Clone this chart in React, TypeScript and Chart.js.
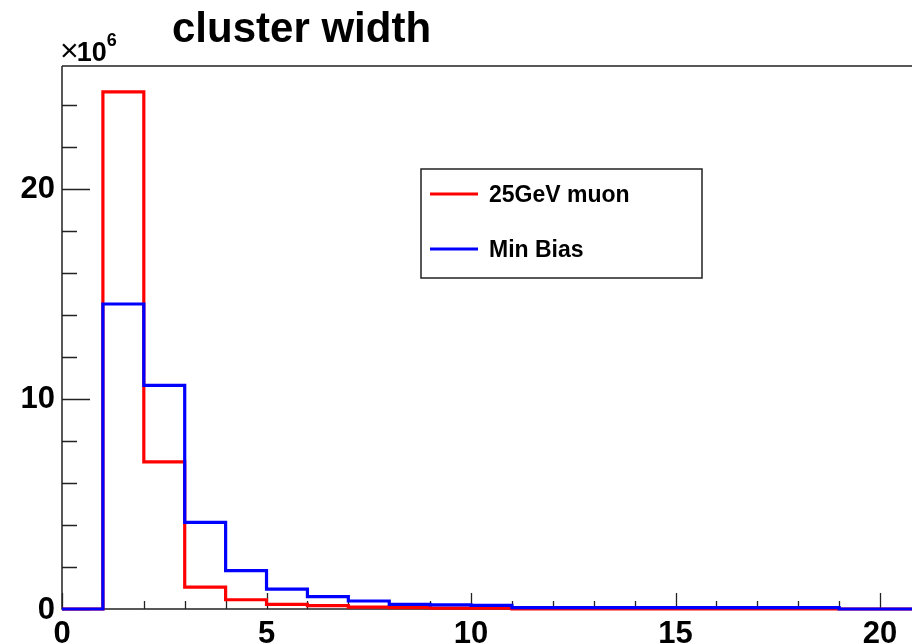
import React, { useEffect, useRef } from "react";
import { Chart, registerables } from "chart.js";

Chart.register(...registerables);

// ---- data (values in units of 10^6) ----
const binEdges = [0, 1, 2, 3, 4, 5, 6, 7, 8, 9, 10, 11, 12, 13, 14, 15, 16, 17, 18, 19, 20, 21];
const muonValues = [0, 24.62, 7.0, 1.04, 0.44, 0.22, 0.16, 0.09, 0.07, 0.04, 0.04, 0, 0, 0, 0, 0, 0, 0, 0, 0, 0];
const minBiasValues = [0, 14.52, 10.65, 4.12, 1.83, 0.95, 0.59, 0.38, 0.22, 0.2, 0.17, 0.07, 0.07, 0.07, 0.07, 0.07, 0.07, 0.07, 0.07, 0, 0];
const seriesLabels = ["25GeV muon", "Min Bias"];
const seriesColors = ["#ff0000", "#0000ff"];
const xMajorTicks = [0, 5, 10, 15, 20];
const yMajorTicks = [0, 10, 20];
const xMinorStep = 1;
const yMinorStep = 2;
const xRange = [0, 20.78];
const yRange = [0, 25.85];
const titleText = "cluster width";
const multiplierSign = "\u00d7";
const multiplierBase = "10";
const multiplierExp = "6";

const FONT = '"Liberation Sans", Arial, Helvetica, sans-serif';

function toSteps(values: number[]) {
  const pts = values.map((v, i) => ({ x: binEdges[i], y: v }));
  pts.push({ x: binEdges[values.length], y: values[values.length - 1] });
  return pts;
}

const rootStylePlugin = {
  id: "rootStyle",
  beforeDatasetsDraw(chart: any) {
    const { ctx, chartArea: a, scales } = chart;
    const x = scales.x;
    const y = scales.y;
    ctx.save();
    ctx.strokeStyle = "#222";
    ctx.lineWidth = 1.5;
    ctx.beginPath();
    ctx.moveTo(a.left, a.top);
    ctx.lineTo(a.right, a.top);
    ctx.moveTo(a.left, a.top);
    ctx.lineTo(a.left, a.bottom);
    ctx.lineTo(a.right, a.bottom);
    ctx.stroke();

    // y ticks (inside)
    ctx.lineWidth = 1.3;
    ctx.beginPath();
    for (let v = y.min; v <= y.max + 1e-9; v += yMinorStep) {
      const py = Math.round(y.getPixelForValue(v)) + 0.5;
      const len = yMajorTicks.includes(v) ? 28 : 15;
      ctx.moveTo(a.left, py);
      ctx.lineTo(a.left + len, py);
    }
    // x ticks (inside)
    for (let v = x.min; v <= x.max + 1e-9; v += xMinorStep) {
      const px = Math.round(x.getPixelForValue(v)) + 0.5;
      const len = xMajorTicks.includes(v) ? 16 : 8;
      ctx.moveTo(px, a.bottom);
      ctx.lineTo(px, a.bottom - len);
    }
    ctx.stroke();
    ctx.restore();
  },
  afterDraw(chart: any) {
    const { ctx, chartArea: a, scales } = chart;
    const x = scales.x;
    const y = scales.y;
    ctx.save();
    ctx.fillStyle = "#000";
    // tick labels
    ctx.font = `bold 31px ${FONT}`;
    ctx.textAlign = "right";
    ctx.textBaseline = "middle";
    yMajorTicks.forEach((v) => {
      ctx.fillText(String(v), a.left - 7, y.getPixelForValue(v) + 1);
    });
    ctx.textAlign = "center";
    ctx.textBaseline = "top";
    xMajorTicks.forEach((v) => {
      ctx.fillText(String(v), x.getPixelForValue(v), a.bottom + 10);
    });
    // multiplier
    ctx.textAlign = "left";
    ctx.textBaseline = "alphabetic";
    ctx.font = `32px ${FONT}`;
    ctx.fillText(multiplierSign, a.left - 2, a.top - 5);
    const ws = ctx.measureText(multiplierSign).width;
    ctx.font = `bold 27px ${FONT}`;
    ctx.fillText(multiplierBase, a.left - 2 + ws - 2, a.top - 5);
    const wb = ctx.measureText(multiplierBase).width;
    ctx.font = `bold 18px ${FONT}`;
    ctx.fillText(multiplierExp, a.left - 2 + ws + wb - 2, a.top - 20);
    // title
    ctx.font = `bold 42px ${FONT}`;
    ctx.fillText(titleText, 172, 42);
    // legend box
    const bx = 421, by = 169, bw = 281, bh = 109;
    ctx.fillStyle = "#fff";
    ctx.fillRect(bx, by, bw, bh);
    ctx.strokeStyle = "#222";
    ctx.lineWidth = 1.5;
    ctx.strokeRect(bx, by, bw, bh);
    ctx.font = `bold 23px ${FONT}`;
    ctx.textBaseline = "middle";
    const rows = [194, 249];
    seriesLabels.forEach((label, i) => {
      ctx.strokeStyle = seriesColors[i];
      ctx.lineWidth = 3;
      ctx.beginPath();
      ctx.moveTo(bx + 9, rows[i]);
      ctx.lineTo(bx + 57, rows[i]);
      ctx.stroke();
      ctx.fillStyle = "#000";
      ctx.fillText(label, bx + 68, rows[i] + 2);
    });
    ctx.restore();
  },
};

export default function App() {
  const ref = useRef<HTMLCanvasElement | null>(null);
  useEffect(() => {
    if (!ref.current) return;
    const chart = new Chart(ref.current, {
      type: "line",
      data: {
        datasets: [
          {
            label: seriesLabels[0],
            data: toSteps(muonValues),
            borderColor: seriesColors[0],
            borderWidth: 3.2,
            stepped: true,
            pointRadius: 0,
            fill: false,
            order: 1,
            clip: 6,
          },
          {
            label: seriesLabels[1],
            data: toSteps(minBiasValues),
            borderColor: seriesColors[1],
            borderWidth: 3.2,
            stepped: true,
            pointRadius: 0,
            fill: false,
            order: 0,
            clip: 6,
          },
        ],
      },
      options: {
        animation: false,
        responsive: true,
        maintainAspectRatio: false,
        layout: { padding: { left: 62, top: 66, right: 0, bottom: 34 } },
        scales: {
          x: { type: "linear", min: xRange[0], max: xRange[1], display: false },
          y: { type: "linear", min: yRange[0], max: yRange[1], display: false },
        },
        plugins: {
          legend: { display: false },
          title: { display: false },
          tooltip: { enabled: false },
        },
      },
      plugins: [rootStylePlugin],
    } as any);
    return () => chart.destroy();
  }, []);
  return (
    <div style={{ position: "fixed", left: 0, top: 0, width: 912, height: 643, background: "#fff" }}>
      <canvas ref={ref} />
    </div>
  );
}
